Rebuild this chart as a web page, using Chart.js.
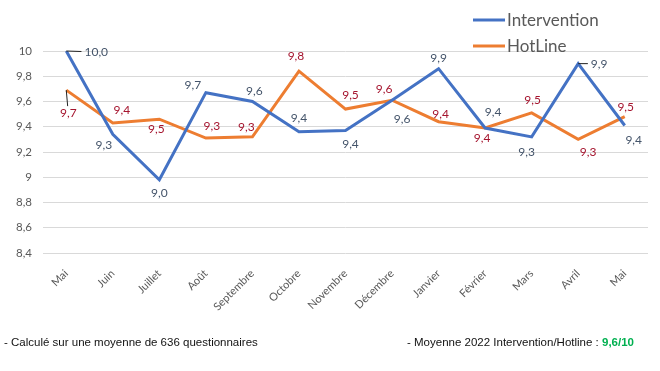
<!DOCTYPE html>
<html>
<head>
<meta charset="utf-8">
<script src="https://cdn.jsdelivr.net/npm/chart.js@4"></script>
<style>
  body { margin: 0; background: #fff; }
  #wrap { position: relative; width: 660px; height: 371px; }
  .foot { position: absolute; top: 336px; font: 11.5px "Liberation Sans", Arial, sans-serif; color: #111; white-space: nowrap; }
  .foot b { color: #00b050; }
</style>
</head>
<body>
<div id="wrap">
  <canvas id="chart" width="660" height="371"></canvas>
  <div class="foot" style="left:4px">- Calculé sur une moyenne de 636 questionnaires</div>
  <div class="foot" style="left:407px">- Moyenne 2022 Intervention/Hotline : <b>9,6/10</b></div>
</div>
<script>
var months = ['Mai', 'Juin', 'Juillet', 'Août', 'Septembre', 'Octobre', 'Novembre', 'Décembre', 'Janvier', 'Février', 'Mars', 'Avril', 'Mai'];
var intervention = [10.0, 9.34, 8.98, 9.67, 9.6, 9.36, 9.37, 9.61, 9.86, 9.39, 9.32, 9.9, 9.41];
var hotline = [9.69, 9.43, 9.46, 9.31, 9.32, 9.84, 9.54, 9.61, 9.44, 9.39, 9.51, 9.30, 9.48];
var yTicks = [8.4, 8.6, 8.8, 9, 9.2, 9.4, 9.6, 9.8, 10];

// label placement relative to the point [dx, dy, leader]
var interventionLabelPos = [[30, 1, 1], [-9, 11], [0, 13], [-13, -8], [2, -10], [0, -14], [5, 14], [10, 19], [0, -11], [8, -16], [-5, 15], [21, 0, 1], [9, 15]];
var hotlineLabelPos = [[2, 23, 1], [9, -13], [-3, 10], [6, -12], [-6, -10], [-3, -15], [5, -14], [-8, -11], [2, -8], [-3, 10], [1, -13], [10, 13], [1, -10]];

function fmt(v) {
    return (Math.round(v * 10) / 10).toFixed(1).replace('.', ',');
}

var labelPlugin = {
    id: 'labels',
    afterDatasetsDraw: function (chart) {
        var c = chart.ctx;
        c.save();
        c.font = '12px Lato';
        c.textAlign = 'center';
        c.textBaseline = 'middle';
        chart.data.datasets.forEach(function (ds, i) {
            var meta = chart.getDatasetMeta(i);
            meta.data.forEach(function (pt, j) {
                var off = ds.labelPos[j];
                var txt = j === 0 && i === 0 ? fmt(ds.data[j]) : fmt(ds.data[j]);
                var lx = pt.x + off[0], ly = pt.y + off[1];
                if (off[2]) {
                    var hw = c.measureText(txt).width / 2 + 3, hh = 7;
                    var dx = off[0], dy = off[1];
                    var t = Math.min(dx ? hw / Math.abs(dx) : 99, dy ? hh / Math.abs(dy) : 99);
                    c.strokeStyle = '#222';
                    c.lineWidth = 1;
                    c.beginPath();
                    c.moveTo(pt.x, pt.y);
                    c.lineTo(lx - dx * t, ly - dy * t);
                    c.stroke();
                }
                c.fillStyle = ds.labelColor;
                c.fillText(txt, lx, ly);
            });
        });
        // legend
        c.font = '17px Lato';
        c.textAlign = 'left';
        chart.data.datasets.forEach(function (ds, i) {
            var y = 20 + i * 26;
            c.strokeStyle = ds.borderColor;
            c.lineWidth = 3;
            c.beginPath();
            c.moveTo(473, y);
            c.lineTo(505, y);
            c.stroke();
            c.fillStyle = '#595959';
            c.fillText(ds.label, 507, y + 1);
        });
        c.restore();
    }
};

new Chart(document.getElementById('chart'), {
    type: 'line',
    data: {
        labels: months,
        datasets: [
            {
                label: 'Intervention',
                data: intervention,
                borderColor: '#4472c4',
                borderWidth: 3,
                pointRadius: 0,
                tension: 0,
                labelColor: '#44546a',
                labelPos: interventionLabelPos
            },
            {
                label: 'HotLine',
                data: hotline,
                borderColor: '#ed7d31',
                borderWidth: 3,
                pointRadius: 0,
                tension: 0,
                labelColor: '#a5142e',
                labelPos: hotlineLabelPos
            }
        ]
    },
    options: {
        responsive: false,
        animation: false,
        layout: { padding: { top: 51, right: 12, left: 0, bottom: 58 } },
        plugins: { legend: { display: false }, tooltip: { enabled: false } },
        scales: {
            x: {
                offset: true,
                grid: { display: false },
                border: { display: false },
                ticks: { color: '#595959', font: { family: 'Lato', size: 11 }, minRotation: 45, maxRotation: 45, padding: 6 },
                afterFit: function (s) { s.height = 60; }
            },
            y: {
                min: 8.4,
                max: 10,
                afterBuildTicks: function (s) { s.ticks = yTicks.map(function (v) { return { value: v }; }); },
                grid: { color: '#d9d9d9', drawTicks: false },
                border: { display: false },
                ticks: {
                    color: '#595959',
                    font: { family: 'Lato', size: 11.5 },
                    padding: 11,
                    callback: function (v) { return String(Math.round(v * 10) / 10).replace('.', ','); }
                },
                afterFit: function (s) { s.width = 43; }
            }
        }
    },
    plugins: [labelPlugin]
});
</script>
</body>
</html>
